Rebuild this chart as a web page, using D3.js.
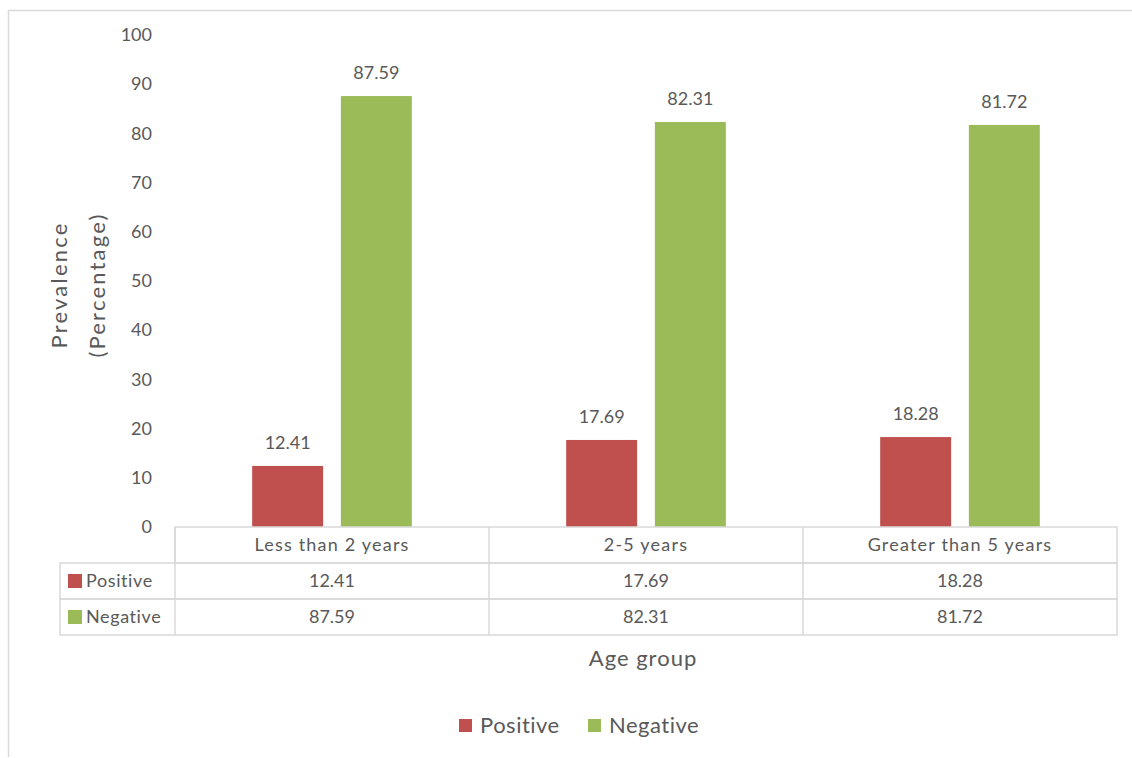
<!DOCTYPE html>
<html>
<head>
<meta charset="utf-8">
<script src="https://cdn.jsdelivr.net/npm/d3@7"></script>
<style>
  html, body { margin: 0; padding: 0; background: #fff; }
  svg { display: block; font-family: Lato, "Open Sans", sans-serif; }
</style>
</head>
<body>
<svg id="chart" width="1132" height="758"></svg>
<script>
// Age groups and the share of positive / negative results in each
const categories = ["Less than 2 years", "2-5 years", "Greater than 5 years"];
const seriesNames = ["Positive", "Negative"];
const positiveValues = [12.41, 17.69, 18.28];
const negativeValues = [87.59, 82.31, 81.72];
const yTicks = [0, 10, 20, 30, 40, 50, 60, 70, 80, 90, 100];
const seriesColors = ["#C0504D", "#9BBB59"];

const seriesValues = [positiveValues, negativeValues];
const textColor = "#595959";
const lineColor = "#D9D9D9";

const svg = d3.select("#chart");

// outer chart frame
svg.append("path")
  .attr("d", "M8.5,757 L8.5,10.5 L1132,10.5")
  .attr("fill", "none").attr("stroke", lineColor).attr("stroke-width", 1.5);

const plot = { left: 175, right: 1117, top: 35, bottom: 527 };

const x = d3.scaleBand().domain(categories).range([plot.left, plot.right]);
const xSeries = d3.scaleBand().domain(seriesNames)
  .range([0, x.bandwidth()]).paddingInner(0.2).paddingOuter(0.87);
const y = d3.scaleLinear().domain([0, 100]).range([plot.bottom, plot.top]);

// value axis labels (no line, no gridlines)
const yAxis = d3.axisLeft(y).tickValues(yTicks).tickSize(0).tickPadding(0);
const yg = svg.append("g").attr("transform", "translate(152,0)").call(yAxis);
yg.select(".domain").remove();
yg.selectAll("text").attr("fill", textColor).style("font-size", "18px")
  .style("font-family", "Lato, 'Open Sans', sans-serif");

// bars
const groups = svg.append("g").selectAll("g").data(categories).join("g")
  .attr("transform", c => `translate(${x(c)},0)`);

seriesNames.forEach((s, si) => {
  groups.append("rect")
    .attr("x", xSeries(s))
    .attr("width", xSeries.bandwidth())
    .attr("y", (c, ci) => y(seriesValues[si][ci]))
    .attr("height", (c, ci) => y(0) - y(seriesValues[si][ci]))
    .attr("fill", seriesColors[si]);
  groups.append("text")
    .attr("x", xSeries(s) + xSeries.bandwidth() / 2)
    .attr("y", (c, ci) => y(seriesValues[si][ci]) - 17)
    .attr("text-anchor", "middle")
    .attr("fill", textColor).style("font-size", "18px")
    .text((c, ci) => seriesValues[si][ci].toFixed(2));
});

// data table under the plot
const rowH = 36;
const tableTop = plot.bottom;
const legendLeft = 60;
const table = svg.append("g").attr("stroke", lineColor).attr("stroke-width", 1.5).attr("fill", "none");
// header row
table.append("rect").attr("x", plot.left).attr("y", tableTop)
  .attr("width", plot.right - plot.left).attr("height", rowH);
// series rows
seriesNames.forEach((s, si) => {
  table.append("rect").attr("x", legendLeft).attr("y", tableTop + rowH * (si + 1))
    .attr("width", plot.right - legendLeft).attr("height", rowH);
});
// column dividers
categories.forEach((c, ci) => {
  table.append("line").attr("x1", x(c)).attr("x2", x(c))
    .attr("y1", tableTop).attr("y2", tableTop + rowH * 3);
});

const cells = svg.append("g").attr("fill", textColor).style("font-size", "18px")
  .attr("text-anchor", "middle");
categories.forEach((c, ci) => {
  cells.append("text").attr("x", x(c) + x.bandwidth() / 2)
    .attr("y", tableTop + rowH / 2).attr("dy", "0.35em")
    .style("letter-spacing", "1.2px").text(c);
  seriesNames.forEach((s, si) => {
    cells.append("text").attr("x", x(c) + x.bandwidth() / 2)
      .attr("y", tableTop + rowH * (si + 1.5)).attr("dy", "0.35em")
      .text(seriesValues[si][ci].toFixed(2));
  });
});
// row legend keys
seriesNames.forEach((s, si) => {
  const cy = tableTop + rowH * (si + 1.5);
  svg.append("rect").attr("x", 68).attr("y", cy - 7).attr("width", 14).attr("height", 14)
    .attr("fill", seriesColors[si]);
  svg.append("text").attr("x", 86).attr("y", cy).attr("dy", "0.35em")
    .attr("fill", textColor).style("font-size", "18px").style("letter-spacing", "0.6px").text(s);
});

// axis titles
const yTitle = svg.append("text").attr("fill", textColor).style("font-size", "22px")
  .style("letter-spacing", "2.2px")
  .attr("text-anchor", "middle").attr("transform", "translate(78,285) rotate(-90)");
yTitle.append("tspan").attr("x", 0).attr("y", -11).text("Prevalence");
yTitle.append("tspan").attr("x", 0).attr("y", 27).text("(Percentage)");

svg.append("text").attr("x", 643).attr("y", 666).attr("text-anchor", "middle")
  .attr("fill", textColor).style("font-size", "22px").style("letter-spacing", "1px").text("Age group");

// series legend
const legendItems = [{ name: "Positive", x: 459 }, { name: "Negative", x: 588 }];
legendItems.forEach((d, i) => {
  svg.append("rect").attr("x", d.x).attr("y", 719).attr("width", 13).attr("height", 13)
    .attr("fill", seriesColors[i]);
  svg.append("text").attr("x", d.x + 21).attr("y", 725).attr("dy", "0.35em")
    .attr("fill", textColor).style("font-size", "22px").style("letter-spacing", "0.5px").text(d.name);
});
</script>
</body>
</html>
